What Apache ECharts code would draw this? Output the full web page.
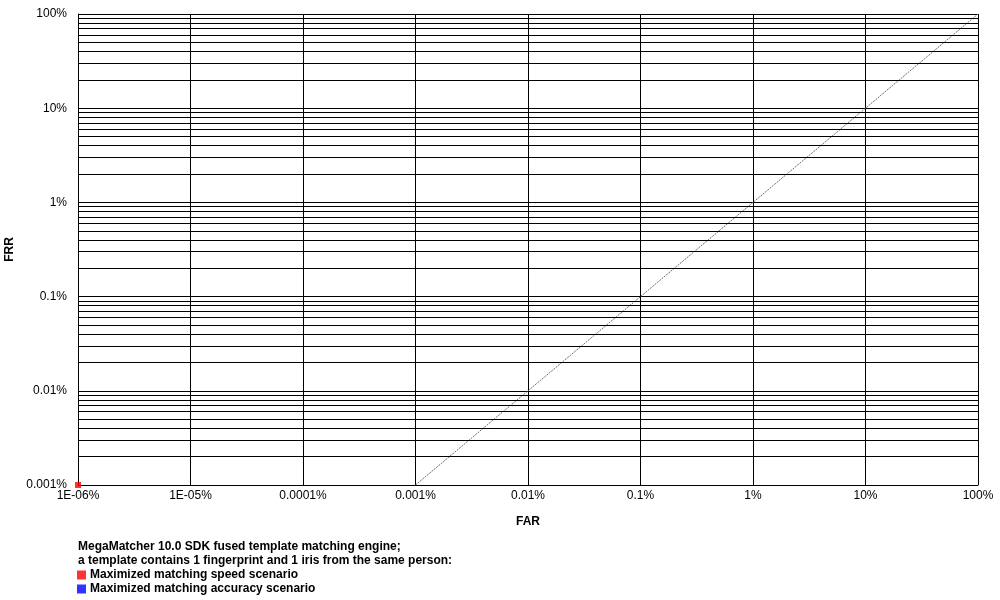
<!DOCTYPE html>
<html>
<head>
<meta charset="utf-8">
<script src="https://cdn.jsdelivr.net/npm/echarts@6/dist/echarts.min.js"></script>
<style>
  html, body { margin: 0; padding: 0; background: #fff; }
  #main { width: 1000px; height: 600px; }
</style>
</head>
<body>
<div id="main"></div>
<script>
// tick labels
var farLabels = ['1E-06%', '1E-05%', '0.0001%', '0.001%', '0.01%', '0.1%', '1%', '10%', '100%'];
var frrLabels = ['0.001%', '0.01%', '0.1%', '1%', '10%', '100%'];

// series
var diagFar = [0.001, 100];
var diagFrr = [0.001, 100];
var speedFar = [0.000001];
var speedFrr = [0.001];
var accuracyFar = [];
var accuracyFrr = [];

var legendTitle = 'MegaMatcher 10.0 SDK fused template matching engine;\na template contains 1 fingerprint and 1 iris from the same person:';
var speedName = 'Maximized matching speed scenario';
var accuracyName = 'Maximized matching accuracy scenario';

var farMin = 0.000001, farMax = 100;
var frrMin = 0.001, frrMax = 100;

function pairs(xs, ys) {
  return xs.map(function (x, i) { return [x, ys[i]]; });
}

// 次网格线 (2..9 每个数量级)
var minorLines = [];
for (var e = -3; e < 2; e++) {
  for (var m = 2; m <= 9; m++) {
    var v = m * Math.pow(10, e);
    minorLines.push([{ coord: [farMin, v] }, { coord: [farMax, v] }]);
  }
}

var font = 'Liberation Sans, Arial, sans-serif';
var chart = echarts.init(document.getElementById('main'));
var option = {
  animation: false,
  backgroundColor: '#fff',
  textStyle: { fontFamily: font },
  grid: { left: 78, right: 22, top: 14, bottom: 115, outerBoundsMode: 'none', containLabel: false },
  title: {
    text: legendTitle,
    left: 78,
    top: 540,
    padding: 0,
    textStyle: { fontSize: 12, fontWeight: 'bold', color: '#000', fontFamily: font, lineHeight: 14 }
  },
  legend: {
    orient: 'vertical',
    left: 77,
    top: 569,
    padding: 0,
    itemWidth: 9,
    itemHeight: 9,
    itemGap: 2,
    icon: 'rect',
    data: [speedName, accuracyName],
    textStyle: { fontSize: 12, fontWeight: 'bold', color: '#000', fontFamily: font, padding: [0, 0, 0, -1] }
  },
  xAxis: {
    type: 'log',
    logBase: 10,
    min: farMin,
    max: farMax,
    interval: 1,
    name: 'FAR',
    nameLocation: 'middle',
    nameGap: 31,
    nameTextStyle: { fontSize: 12, fontWeight: 'bold', color: '#000' },
    axisLine: { lineStyle: { color: '#000', width: 1 } },
    axisTick: { show: false },
    axisLabel: {
      color: '#000', fontSize: 12, margin: 5,
      formatter: function (v) { return farLabels[Math.round(Math.log10(v)) + 6]; }
    },
    splitLine: { show: true, lineStyle: { color: '#000', width: 1 } }
  },
  yAxis: {
    type: 'log',
    logBase: 10,
    min: frrMin,
    max: frrMax,
    interval: 1,
    name: 'FRR',
    nameLocation: 'middle',
    nameGap: 58,
    nameRotate: 90,
    nameTextStyle: { fontSize: 12, fontWeight: 'bold', color: '#000' },
    axisLine: { lineStyle: { color: '#000', width: 1 } },
    axisTick: { show: false },
    axisLabel: {
      color: '#000', fontSize: 12, margin: 11,
      formatter: function (v) { return frrLabels[Math.round(Math.log10(v)) + 3]; }
    },
    splitLine: { show: true, lineStyle: { color: '#000', width: 1 } }
  },
  series: [{
    name: 'grid',
    type: 'line',
    data: [],
    silent: true,
    markLine: {
      silent: true,
      symbol: 'none',
      label: { show: false },
      lineStyle: { color: '#000', width: 1, type: 'solid' },
      data: minorLines
    }
  }, {
    name: 'diag',
    type: 'line',
    data: pairs(diagFar, diagFrr),
    symbol: 'none',
    lineStyle: { color: '#6e6e6e', width: 1, type: [2, 1] },
    z: 3
  }, {
    name: accuracyName,
    type: 'scatter',
    data: pairs(accuracyFar, accuracyFrr),
    symbol: 'rect',
    symbolSize: 5,
    itemStyle: { color: '#0000ff' }
  }, {
    name: speedName,
    type: 'scatter',
    data: pairs(speedFar, speedFrr),
    symbol: 'rect',
    symbolSize: 6,
    clip: false,
    itemStyle: { color: '#ff0000' },
    z: 5
  }]
};

chart.setOption(option);
</script>
</body>
</html>
